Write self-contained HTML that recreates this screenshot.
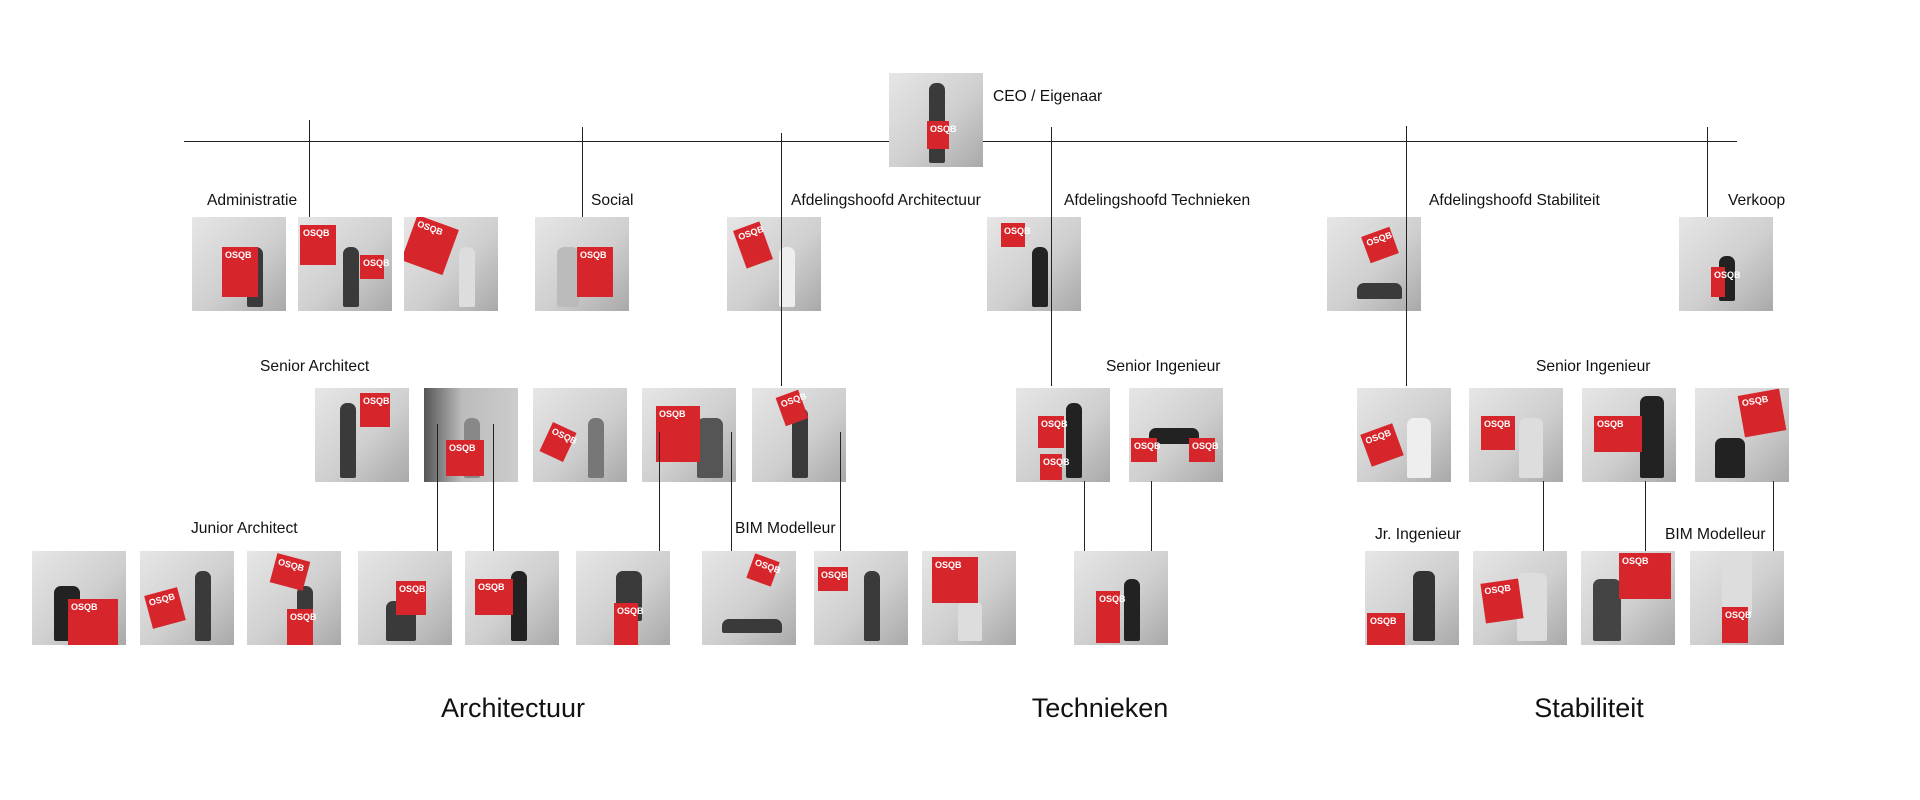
<!DOCTYPE html>
<html><head><meta charset="utf-8"><style>
body{margin:0;width:1920px;height:800px;background:#fff;position:relative;overflow:hidden;font-family:"Liberation Sans",sans-serif;color:#111}
.p{position:absolute;width:94px;height:94px;background:linear-gradient(135deg,#e6e6e6 0%,#cfcfcf 55%,#a9a9a9 100%);overflow:hidden}
.p .f{position:absolute;background:#3a3a3a;width:16px;height:60px;bottom:4px;border-radius:7px 7px 2px 2px}
.p .r{position:absolute;background:#d7262b;width:36px;height:36px}
.p .r:after{content:"OSQB";position:absolute;left:3px;top:3px;color:#fff;font:bold 9px "Liberation Sans",sans-serif}
.l{position:absolute;background:#222;width:1px;z-index:2}
.t{position:absolute;font-size:15.6px;line-height:18px;white-space:nowrap}
.s{position:absolute;font-size:27px;line-height:30px;transform:translateX(-50%)}
</style></head><body>
<div style="position:absolute;left:184px;top:141px;width:1553px;height:1px;background:#222"></div>

<div class="l" style="left:309px;top:120px;height:97px"></div>
<div class="l" style="left:582px;top:127px;height:90px"></div>
<div class="l" style="left:781px;top:133px;height:253px"></div>
<div class="l" style="left:1051px;top:127px;height:259px"></div>
<div class="l" style="left:1406px;top:126px;height:260px"></div>
<div class="l" style="left:1707px;top:127px;height:90px"></div>

<div class="l" style="left:437px;top:424px;height:127px"></div>
<div class="l" style="left:493px;top:424px;height:127px"></div>
<div class="l" style="left:659px;top:432px;height:119px"></div>
<div class="l" style="left:731px;top:432px;height:119px"></div>
<div class="l" style="left:840px;top:432px;height:119px"></div>
<div class="l" style="left:1084px;top:481px;height:70px"></div>
<div class="l" style="left:1151px;top:481px;height:70px"></div>
<div class="l" style="left:1543px;top:481px;height:70px"></div>
<div class="l" style="left:1645px;top:481px;height:70px"></div>
<div class="l" style="left:1773px;top:481px;height:70px"></div>

<div class="p" style="left:889px;top:73px"><div class="f" style="left:40px;height:80px"></div><div class="r" style="left:38px;top:48px;width:22px;height:28px"></div></div>
<div class="t" style="left:993px;top:88px">CEO / Eigenaar</div>

<div class="t" style="left:207px;top:192px">Administratie</div>
<div class="t" style="left:591px;top:192px">Social</div>
<div class="t" style="left:791px;top:192px">Afdelingshoofd Architectuur</div>
<div class="t" style="left:1064px;top:192px">Afdelingshoofd Technieken</div>
<div class="t" style="left:1429px;top:192px">Afdelingshoofd Stabiliteit</div>
<div class="t" style="left:1728px;top:192px">Verkoop</div>

<div class="p" style="left:192px;top:217px"><div class="f" style="left:55px"></div><div class="r" style="left:30px;top:30px;height:50px"></div></div>
<div class="p" style="left:298px;top:217px"><div class="f" style="left:45px"></div><div class="r" style="left:2px;top:8px;height:40px"></div><div class="r" style="left:62px;top:38px;width:24px;height:24px"></div></div>
<div class="p" style="left:404px;top:217px"><div class="f" style="left:55px;background:#ddd"></div><div class="r" style="left:4px;top:4px;width:44px;height:48px;transform:rotate(20deg)"></div></div>
<div class="p" style="left:535px;top:217px"><div class="f" style="left:22px;width:22px;background:#bbb"></div><div class="r" style="left:42px;top:30px;height:50px"></div></div>
<div class="p" style="left:727px;top:217px"><div class="f" style="left:52px;background:#eee"></div><div class="r" style="left:12px;top:8px;width:28px;height:40px;transform:rotate(-20deg)"></div></div>
<div class="p" style="left:987px;top:217px"><div class="f" style="left:45px;background:#222"></div><div class="r" style="left:14px;top:6px;width:24px;height:24px"></div></div>
<div class="p" style="left:1327px;top:217px"><div class="f" style="left:30px;width:45px;height:16px;bottom:12px"></div><div class="r" style="left:38px;top:14px;width:30px;height:28px;transform:rotate(-20deg)"></div></div>
<div class="p" style="left:1679px;top:217px"><div class="f" style="left:40px;height:45px;bottom:10px;background:#222"></div><div class="r" style="left:32px;top:50px;width:14px;height:30px"></div></div>

<div class="t" style="left:260px;top:358px">Senior Architect</div>
<div class="t" style="left:1106px;top:358px">Senior Ingenieur</div>
<div class="t" style="left:1536px;top:358px">Senior Ingenieur</div>

<div class="p" style="left:315px;top:388px"><div class="f" style="left:25px;height:75px"></div><div class="r" style="left:45px;top:5px;width:30px;height:34px"></div></div>
<div class="p" style="left:424px;top:388px;background:linear-gradient(90deg,#555,#bbb 40%,#ccc)"><div class="f" style="left:40px;background:#888"></div><div class="r" style="left:22px;top:52px;width:38px;height:36px"></div></div>
<div class="p" style="left:533px;top:388px"><div class="f" style="left:55px;background:#777"></div><div class="r" style="left:12px;top:38px;width:26px;height:32px;transform:rotate(25deg)"></div></div>
<div class="p" style="left:642px;top:388px"><div class="f" style="left:55px;width:26px;background:#555"></div><div class="r" style="left:14px;top:18px;width:44px;height:56px"></div></div>
<div class="p" style="left:752px;top:388px"><div class="f" style="left:40px;height:70px"></div><div class="r" style="left:28px;top:5px;width:24px;height:30px;transform:rotate(-20deg)"></div></div>
<div class="p" style="left:1016px;top:388px"><div class="f" style="left:50px;height:75px;background:#222"></div><div class="r" style="left:22px;top:28px;width:26px;height:32px"></div><div class="r" style="left:24px;top:66px;width:22px;height:26px"></div></div>
<div class="p" style="left:1129px;top:388px"><div class="f" style="left:20px;width:50px;height:16px;bottom:38px;background:#222"></div><div class="r" style="left:2px;top:50px;width:26px;height:24px"></div><div class="r" style="left:60px;top:50px;width:26px;height:24px"></div></div>
<div class="p" style="left:1357px;top:388px"><div class="f" style="left:50px;width:24px;background:#eee"></div><div class="r" style="left:8px;top:40px;width:34px;height:34px;transform:rotate(-20deg)"></div></div>
<div class="p" style="left:1469px;top:388px"><div class="f" style="left:50px;width:24px;background:#ddd"></div><div class="r" style="left:12px;top:28px;width:34px;height:34px"></div></div>
<div class="p" style="left:1582px;top:388px"><div class="f" style="left:58px;width:24px;height:82px;background:#222"></div><div class="r" style="left:12px;top:28px;width:48px;height:36px"></div></div>
<div class="p" style="left:1695px;top:388px"><div class="f" style="left:20px;width:30px;height:40px;background:#222"></div><div class="r" style="left:46px;top:4px;width:42px;height:42px;transform:rotate(-10deg)"></div></div>

<div class="t" style="left:191px;top:520px">Junior Architect</div>
<div class="t" style="left:735px;top:520px">BIM Modelleur</div>
<div class="t" style="left:1375px;top:526px">Jr. Ingenieur</div>
<div class="t" style="left:1665px;top:526px">BIM Modelleur</div>

<div class="p" style="left:32px;top:551px"><div class="f" style="left:22px;width:26px;height:55px;background:#222"></div><div class="r" style="left:36px;top:48px;width:50px;height:46px"></div></div>
<div class="p" style="left:140px;top:551px"><div class="f" style="left:55px;height:70px"></div><div class="r" style="left:8px;top:40px;width:34px;height:34px;transform:rotate(-15deg)"></div></div>
<div class="p" style="left:247px;top:551px"><div class="f" style="left:50px;height:55px"></div><div class="r" style="left:26px;top:6px;width:34px;height:30px;transform:rotate(15deg)"></div><div class="r" style="left:40px;top:58px;width:26px;height:36px"></div></div>
<div class="p" style="left:358px;top:551px"><div class="f" style="left:28px;width:30px;height:40px"></div><div class="r" style="left:38px;top:30px;width:30px;height:34px"></div></div>
<div class="p" style="left:465px;top:551px"><div class="f" style="left:46px;height:70px;background:#222"></div><div class="r" style="left:10px;top:28px;width:38px;height:36px"></div></div>
<div class="p" style="left:576px;top:551px"><div class="f" style="left:40px;width:26px;height:50px;bottom:24px"></div><div class="r" style="left:38px;top:52px;width:24px;height:42px"></div></div>
<div class="p" style="left:702px;top:551px"><div class="f" style="left:20px;width:60px;height:14px;bottom:12px"></div><div class="r" style="left:48px;top:6px;width:26px;height:26px;transform:rotate(20deg)"></div></div>
<div class="p" style="left:814px;top:551px"><div class="f" style="left:50px;height:70px"></div><div class="r" style="left:4px;top:16px;width:30px;height:24px"></div></div>
<div class="p" style="left:922px;top:551px"><div class="f" style="left:36px;width:24px;height:40px;background:#ddd"></div><div class="r" style="left:10px;top:6px;width:46px;height:46px"></div></div>
<div class="p" style="left:1074px;top:551px"><div class="f" style="left:50px;height:62px;background:#222"></div><div class="r" style="left:22px;top:40px;width:24px;height:52px"></div></div>
<div class="p" style="left:1365px;top:551px"><div class="f" style="left:48px;width:22px;height:70px;background:#333"></div><div class="r" style="left:2px;top:62px;width:38px;height:32px"></div></div>
<div class="p" style="left:1473px;top:551px"><div class="f" style="left:44px;width:30px;height:68px;background:#ddd"></div><div class="r" style="left:10px;top:30px;width:38px;height:40px;transform:rotate(-8deg)"></div></div>
<div class="p" style="left:1581px;top:551px"><div class="f" style="left:12px;width:28px;height:62px;background:#444"></div><div class="r" style="left:38px;top:2px;width:52px;height:46px"></div></div>
<div class="p" style="left:1690px;top:551px"><div class="f" style="left:32px;width:30px;height:70px;background:#ddd;bottom:30px"></div><div class="r" style="left:32px;top:56px;width:26px;height:36px"></div></div>

<div class="s" style="left:513px;top:693px">Architectuur</div>
<div class="s" style="left:1100px;top:693px">Technieken</div>
<div class="s" style="left:1589px;top:693px">Stabiliteit</div>
</body></html>
